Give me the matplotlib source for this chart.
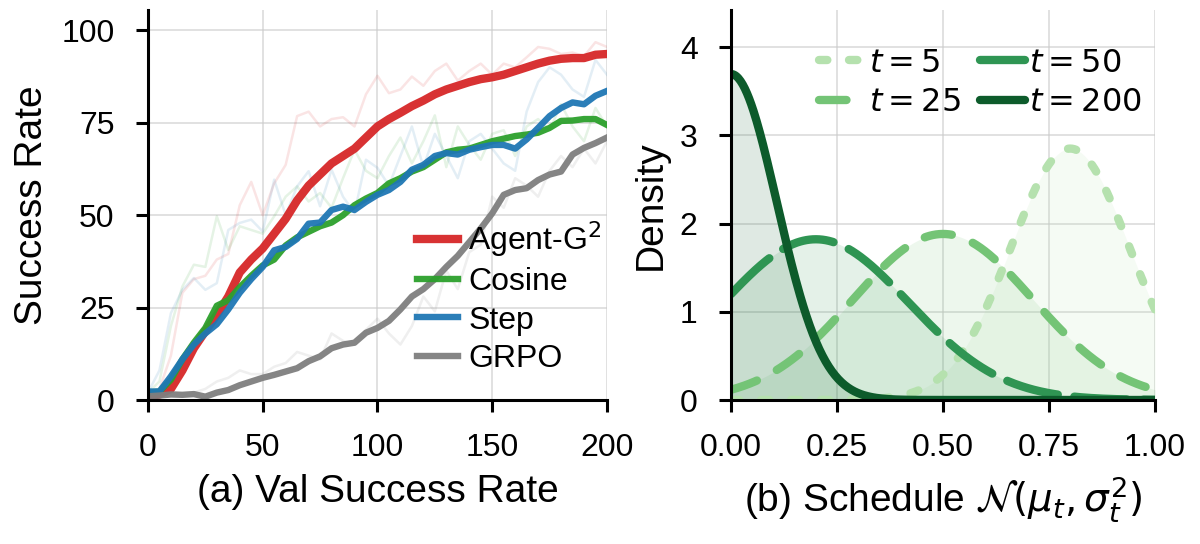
import matplotlib
matplotlib.use("Agg")
import matplotlib.pyplot as plt
import numpy as np

# ---- panel (a): validation success rate ----
steps = list(range(0, 201, 5))

agent_smooth = [1, 1.5, 3, 8, 14, 18.6, 23, 28, 34.5, 38, 41, 45, 49, 54, 58, 61, 64, 66, 68, 71,
                74, 76, 77.7, 79.5, 81, 82.7, 84, 85, 86, 86.8, 87.3, 88, 89, 90, 91, 91.8, 92.3,
                92.5, 92.5, 93.4, 93.6]
cosine_smooth = [2, 2.3, 5.5, 11, 15.5, 19.5, 25.5, 27, 30.5, 33.6, 36.4, 38, 41.8, 44, 45.5, 47,
                 48, 50, 52.7, 54.5, 56, 58.6, 60, 61.8, 63, 65, 67, 67.7, 68, 69, 70, 70.7, 71.4,
                 71.8, 72.3, 73.6, 75.5, 75.6, 76, 76, 74.4]
step_smooth = [2.3, 2.3, 6.4, 11, 15, 18, 20.5, 24.5, 29, 32.7, 36, 40.5, 41.4, 43.6, 47.7, 48,
               51.4, 52.3, 51.4, 53.6, 55.5, 56.8, 59, 62.3, 63.6, 66, 66.8, 66.4, 67.7, 68.4, 69,
               69, 68, 70.5, 73.6, 76.8, 79, 80.5, 80, 82.3, 83.6]
grpo_smooth = [1, 1.2, 1.5, 1.4, 1.6, 0.9, 2, 2.7, 4, 5, 6, 6.8, 7.7, 8.6, 10.5, 11.8, 14, 15,
               15.5, 18.2, 19.5, 21.4, 24.5, 28, 30, 32.7, 36, 39, 42.7, 46.4, 50.5, 55.5, 56.8,
               57.3, 59.5, 61, 61.8, 66.4, 68.2, 69.5, 71]

agent_raw = [1, 3, 12, 29, 32.7, 33.6, 38, 39.5, 52.7, 59, 50, 58.6, 63.6, 76.8, 78, 74, 76,
             76.5, 74, 82.7, 87.7, 83, 84, 87.5, 85, 89, 91, 86.4, 89, 91, 88, 91, 90, 92.7,
             95.5, 95, 93.6, 94, 93, 96.8, 95.5]
cosine_raw = [2, 5, 20, 30.7, 36.6, 36, 49.7, 40.6, 47, 46, 45, 49.7, 55, 57.8, 53.7, 56, 52,
              60, 67.7, 62, 60, 66, 71, 64, 70, 77, 63, 74, 69, 65, 72, 73, 66, 74, 76, 73, 80,
              74, 70, 79, 74]
step_raw = [2, 8, 23.5, 29.8, 33, 29.8, 31.6, 46, 47.9, 48.8, 45.6, 59.6, 50, 57.8, 61.9, 52.4,
            62.3, 55, 50.6, 65, 62.8, 58, 66, 74, 63, 72, 66, 60, 70, 72, 68, 64, 62, 78, 86,
            90, 88, 84, 82, 92, 88]
grpo_raw = [1, 2, 2.5, 1.5, 2, 3, 5, 6, 8, 7, 7, 9, 10, 13, 12, 11, 18, 16, 15, 19, 22, 18,
            15, 20, 28, 24, 35, 30, 40, 42, 55, 52, 60, 58, 55, 62, 66, 63, 68, 64, 70]

curve_names = ["Agent-G$^2$", "Cosine", "Step", "GRPO"]
curve_colors = ["#d62728", "#2ca02c", "#1f77b4", "#7f7f7f"]

# ---- panel (b): noise schedule ----
sched_labels = ["$t = 5$", "$t = 25$", "$t = 50$", "$t = 200$"]
sched_mu = [0.80, 0.50, 0.20, 0.00]
sched_sigma = [0.140, 0.212, 0.219, 0.108]
sched_colors = ["#b5e1ae", "#74c476", "#2f9553", "#0d5b2b"]
sched_dashes = [(1.0, 2.6), (3.3, 2.7), (6.3, 2.0), None]

plt.rcParams.update(
    {
        "font.family": ["Liberation Sans", "DejaVu Sans"],
        "mathtext.fontset": "dejavusans",
        "axes.labelsize": 14,
        "xtick.labelsize": 11.5,
        "ytick.labelsize": 11.5,
        "legend.fontsize": 11.5,
    }
)


def style_axis(ax):
    ax.grid(True, color="#cccccc", linewidth=0.6, alpha=0.7)
    ax.set_axisbelow(True)
    ax.spines["top"].set_visible(False)
    ax.spines["right"].set_visible(False)
    ax.spines["left"].set_linewidth(1.1)
    ax.spines["bottom"].set_linewidth(1.1)
    ax.tick_params(axis="both", width=1.1, length=4.2, pad=7.8, color="black")


fig = plt.figure(figsize=(6, 2.72), dpi=200)
ax1 = fig.add_axes([0.1233, 0.2647, 0.3825, 0.7169])
ax2 = fig.add_axes([0.6092, 0.2647, 0.3533, 0.7169])

raws = [agent_raw, cosine_raw, step_raw, grpo_raw]
smooths = [agent_smooth, cosine_smooth, step_smooth, grpo_smooth]
widths = [3.0, 2.3, 2.3, 2.3]
for raw, color in zip(raws, curve_colors):
    ax1.plot(steps, raw, color=color, linewidth=0.9, alpha=0.12)
for sm, name, color, lw in zip(smooths, curve_names, curve_colors, widths):
    ax1.plot(steps, sm, color=color, linewidth=lw, label=name, alpha=0.95)

ax1.set_xlim(0, 200)
ax1.set_ylim(0, 105.5)
ax1.set_xticks([0, 50, 100, 150, 200])
ax1.set_yticks([0, 25, 50, 75, 100])
ax1.set_ylabel("Success Rate")
ax1.set_xlabel("(a) Val Success Rate")
style_axis(ax1)
ax1.legend(
    loc="lower right",
    bbox_to_anchor=(1.03, 0.018),
    frameon=False,
    handlelength=1.3,
    handletextpad=0.3,
    labelspacing=0.26,
    borderaxespad=0.2,
)

x = np.linspace(0, 1, 400)
for label, mu, sigma, color, dash in zip(sched_labels, sched_mu, sched_sigma, sched_colors, sched_dashes):
    dens = np.exp(-((x - mu) ** 2) / (2 * sigma**2)) / (sigma * np.sqrt(2 * np.pi))
    ax2.fill_between(x, dens, color=color, alpha=0.13, linewidth=0)
    line, = ax2.plot(x, dens, color=color, linewidth=3.0, label=label,
                     dash_capstyle="round", solid_capstyle="round")
    if dash is not None:
        line.set_dashes(dash)

ax2.set_xlim(0, 1)
ax2.set_ylim(0, 4.42)
ax2.set_xticks([0, 0.25, 0.5, 0.75, 1.0])
ax2.set_xticklabels(["0.00", "0.25", "0.50", "0.75", "1.00"])
ax2.set_yticks([0, 1, 2, 3, 4])
ax2.set_ylabel("Density")
ax2.set_xlabel(r"(b) Schedule $\mathcal{N}(\mu_t, \sigma_t^2)$")
style_axis(ax2)
ax2.legend(
    loc="upper right",
    bbox_to_anchor=(1.015, 0.95),
    ncol=2,
    frameon=False,
    handlelength=1.4,
    handletextpad=0.15,
    columnspacing=0.6,
    labelspacing=0.3,
    borderaxespad=0.2,
)

fig.savefig("out.png", dpi=200)
